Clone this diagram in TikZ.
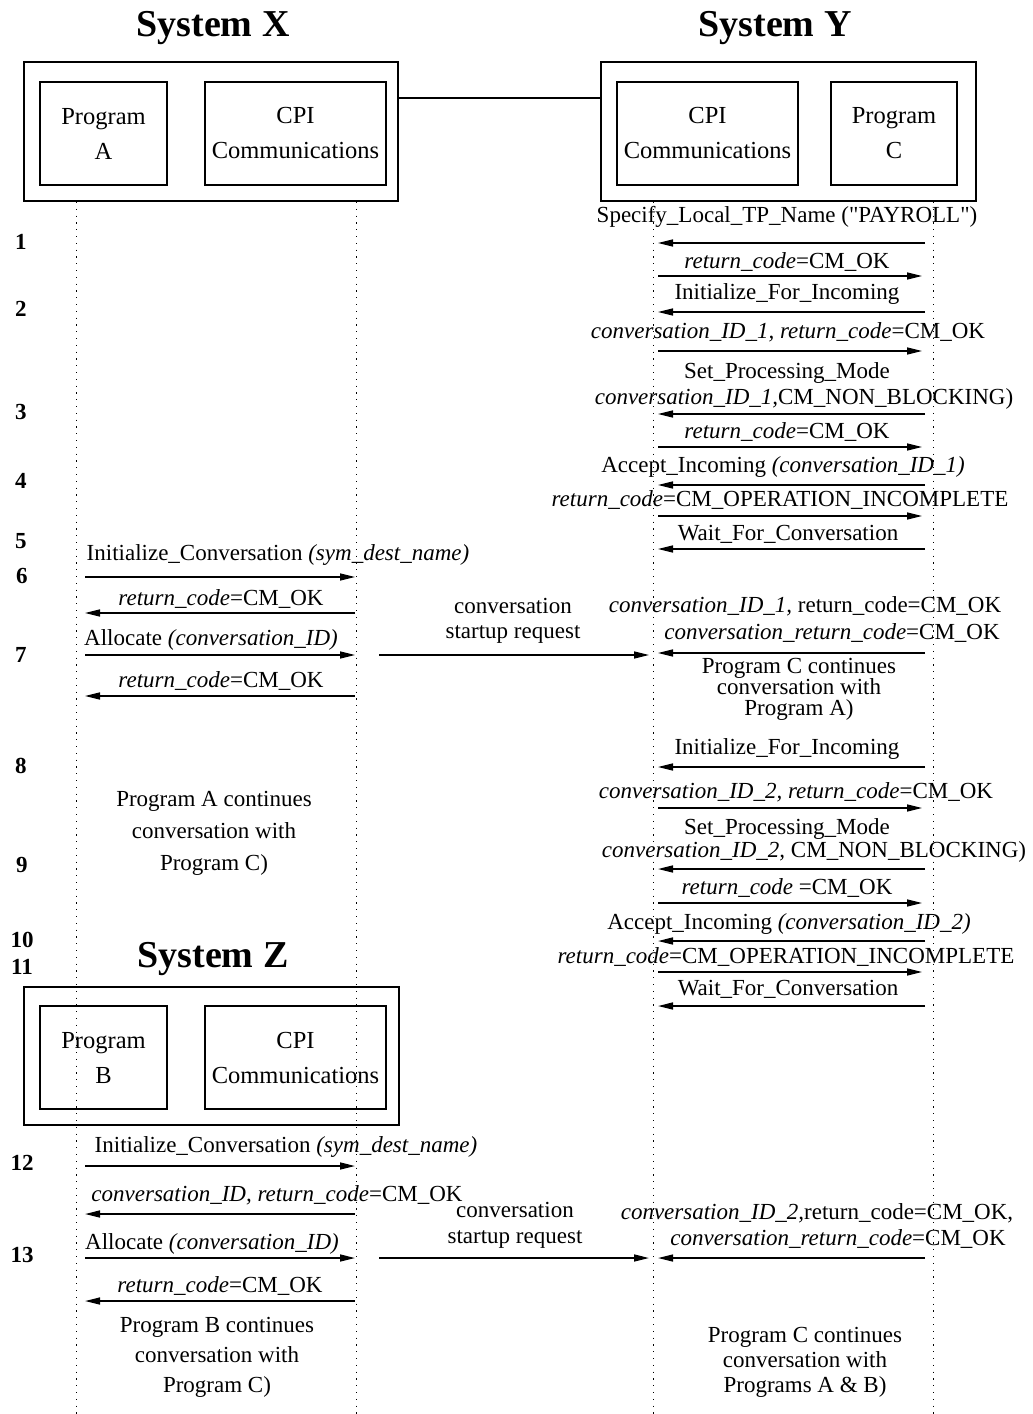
\documentclass[tikz,border=0pt]{standalone}
\usepackage{fontspec}
\setmainfont{Liberation Serif}
\usetikzlibrary{arrows.meta}

\tikzset{
  title/.style={anchor=base, inner sep=0pt, font=\fontsize{38}{38}\selectfont\bfseries},
  frame/.style={draw, line width=1.2pt, inner sep=0pt},
  unit/.style={draw, line width=1.2pt, inner sep=0pt, align=center, minimum height=103pt, font=\fontsize{24.5}{35}\selectfont},
  stepno/.style={anchor=base, inner sep=0pt, font=\fontsize{23}{23}\selectfont\bfseries},
  lbl/.style={anchor=base, inner sep=0pt},
  note/.style={align=center, inner sep=0pt},
  life/.style={line width=0.9pt, dash pattern=on 1.2pt off 5.6pt},
  msg/.style={line width=1.4pt, -{Triangle[length=15pt,width=7pt]}},
  xr/.style={msg, shorten <=9pt, shorten >=1pt},
  xl/.style={msg, shorten <=1pt, shorten >=9pt},
  yr/.style={msg, shorten <=5pt, shorten >=11pt},
  yl/.style={msg, shorten <=8pt, shorten >=5pt},
  far/.style={msg, shorten <=23pt, shorten >=4pt}
}

\begin{document}
\begin{tikzpicture}[x=1pt, y=-1pt, font=\fontsize{23}{26}\selectfont]
\useasboundingbox (0,0) rectangle (1033,1414);

\node[title] (tX) at (213,36) {System X};
\node[title] (tY) at (775,36) {System Y};
\node[title] (tZ) at (213,967) {System Z};

\node[frame, minimum width=374pt, minimum height=139pt] (sysX) at (211,131.5) {};
\node[unit, minimum width=127pt] (progA) at (103.5,133.5) {Program\\A};
\node[unit, minimum width=181pt] (cpiX) at (295.5,133.5) {CPI\\Communications};

\node[frame, minimum width=375pt, minimum height=139pt] (sysY) at (788.5,131.5) {};
\node[unit, minimum width=181pt] (cpiY) at (707.5,133.5) {CPI\\Communications};
\node[unit, minimum width=126pt] (progC) at (894,133.5) {Program\\C};

\draw[line width=1.2pt] ([yshift=33.5pt]sysX.east) -- ([yshift=33.5pt]sysY.west);

\node[frame, minimum width=375pt, minimum height=138pt] (sysZ) at (211.5,1056) {};
\node[unit, minimum width=127pt] (progB) at (103.5,1057.5) {Program\\B};
\node[unit, minimum width=181pt] (cpiZ) at (295.5,1057.5) {CPI\\Communications};

% life lines
\coordinate (pA) at (76,202);
\coordinate (cX) at (356,202);
\coordinate (cY) at (653,202);
\coordinate (pC) at (933,202);
\draw[life] (pA) -- (pA |- 0,1414);
\draw[life] (cX) -- (cX |- 0,1414);
\draw[life] (cY) -- (cY |- 0,1414);
\draw[life] (pC) -- (pC |- 0,1414);

% step numbers
\node[stepno] (s1) at (21,249) {1};
\node[stepno] (s2) at (21,316) {2};
\node[stepno] (s3) at (21,419) {3};
\node[stepno] (s4) at (21,488) {4};
\node[stepno] (s5) at (21,548) {5};
\node[stepno] (s6) at (22,583) {6};
\node[stepno] (s7) at (21,662) {7};
\node[stepno] (s8) at (21,773) {8};
\node[stepno] (s9) at (22,872) {9};
\node[stepno] (s10) at (22,947) {10};
\node[stepno] (s11) at (22,974) {11};
\node[stepno] (s12) at (22,1170) {12};
\node[stepno] (s13) at (22,1262) {13};

% System Y, first conversation
\node[lbl] (specTP) at (787,222) {Specify\_Local\_TP\_Name (\textquotedbl PAYROLL\textquotedbl)};
\draw[yl] (pC |- 0,243) -- (cY |- 0,243);
\node[lbl] (rcA) at (787,268) {\textit{return\_code}=CM\_OK};
\draw[yr] (cY |- 0,276) -- (pC |- 0,276);
\node[lbl] (initInA) at (787,299) {Initialize\_For\_Incoming};
\draw[yl] (pC |- 0,312) -- (cY |- 0,312);
\node[lbl] (idA) at (788,338) {\textit{conversation\_ID\_1, return\_code}=CM\_OK};
\draw[yr] (cY |- 0,351) -- (pC |- 0,351);
\node[lbl] (modeA) at (787,378) {Set\_Processing\_Mode};
\node[lbl] (nbA) at (804,404) {\textit{conversation\_ID\_1,}CM\_NON\_BLOCKING)};
\draw[yl] (pC |- 0,414) -- (cY |- 0,414);
\node[lbl] (rcB) at (787,438) {\textit{return\_code}=CM\_OK};
\draw[yr] (cY |- 0,447) -- (pC |- 0,447);
\node[lbl] (accA) at (783,472) {Accept\_Incoming \textit{(conversation\_ID\_1)}};
\draw[yl] (pC |- 0,485) -- (cY |- 0,485);
\node[lbl] (incA) at (780,506) {\textit{return\_code}=CM\_OPERATION\_INCOMPLETE};
\draw[yr] (cY |- 0,516) -- (pC |- 0,516);
\node[lbl] (waitA) at (788,540) {Wait\_For\_Conversation};
\draw[yl] (pC |- 0,549) -- (cY |- 0,549);

% System X allocates
\node[lbl] (initCA) at (278,560) {Initialize\_Conversation \textit{(sym\_dest\_name)}};
\draw[xr] (pA |- 0,577) -- (cX |- 0,577);
\node[lbl] (rcC) at (221,605) {\textit{return\_code}=CM\_OK};
\draw[xl] (cX |- 0,613) -- (pA |- 0,613);
\node[note, font=\fontsize{23}{25}\selectfont] (startA) at (513,621) {conversation\\startup request};
\node[lbl] (allocA) at (211,645) {Allocate \textit{(conversation\_ID)}};
\draw[xr] (pA |- 0,655) -- (cX |- 0,655);
\draw[far] (cX |- 0,655) -- (cY |- 0,655);
\node[lbl] (rcD) at (221,687) {\textit{return\_code}=CM\_OK};
\draw[xl] (cX |- 0,696) -- (pA |- 0,696);
\node[lbl] (idB) at (805,612) {\textit{conversation\_ID\_1,} return\_code=CM\_OK};
\node[lbl] (crcA) at (832,639) {\textit{conversation\_return\_code}=CM\_OK};
\draw[yl] (pC |- 0,653) -- (cY |- 0,653);
\node[note, font=\fontsize{23}{21}\selectfont] (goC1) at (799,689) {Program C continues\\conversation with\\Program A)};
\node[note, font=\fontsize{23}{32}\selectfont] (goA) at (214,833) {Program A continues\\conversation with\\Program C)};

% System Y, second conversation
\node[lbl] (initInB) at (787,754) {Initialize\_For\_Incoming};
\draw[yl] (pC |- 0,767) -- (cY |- 0,767);
\node[lbl] (idC) at (796,798) {\textit{conversation\_ID\_2, return\_code}=CM\_OK};
\draw[yr] (cY |- 0,808) -- (pC |- 0,808);
\node[lbl] (modeB) at (787,834) {Set\_Processing\_Mode};
\node[lbl] (nbB) at (814,857) {\textit{conversation\_ID\_2,} CM\_NON\_BLOCKING)};
\draw[yl] (pC |- 0,869) -- (cY |- 0,869);
\node[lbl] (rcE) at (787,894) {\textit{return\_code} =CM\_OK};
\draw[yr] (cY |- 0,903) -- (pC |- 0,903);
\node[lbl] (accB) at (789,929) {Accept\_Incoming\textit{ (conversation\_ID\_2)}};
\draw[yl] (pC |- 0,941) -- (cY |- 0,941);
\node[lbl] (incB) at (786,963) {\textit{return\_code}=CM\_OPERATION\_INCOMPLETE};
\draw[yr] (cY |- 0,972) -- (pC |- 0,972);
\node[lbl] (waitB) at (788,995) {Wait\_For\_Conversation};
\draw[yl] (pC |- 0,1006) -- (cY |- 0,1006);

% System Z allocates
\node[lbl] (initCB) at (286,1152) {Initialize\_Conversation \textit{(sym\_dest\_name)}};
\draw[xr] (pA |- 0,1166) -- (cX |- 0,1166);
\node[lbl] (idD) at (277,1201) {\textit{conversation\_ID, return\_code}=CM\_OK};
\draw[xl] (cX |- 0,1214) -- (pA |- 0,1214);
\node[note, font=\fontsize{23}{26}\selectfont] (startB) at (515,1225) {conversation\\startup request};
\node[lbl] (idE) at (817,1219) {\textit{conversation\_ID\_2,}return\_code=CM\_OK,};
\node[lbl] (crcB) at (838,1245) {\textit{conversation\_return\_code}=CM\_OK};
\node[lbl] (allocB) at (212,1249) {Allocate \textit{(conversation\_ID)}};
\draw[xr] (pA |- 0,1258) -- (cX |- 0,1258);
\draw[far] (cX |- 0,1258) -- (cY |- 0,1258);
\draw[yl] (pC |- 0,1258) -- (cY |- 0,1258);
\node[lbl] (rcF) at (220,1292) {\textit{return\_code}=CM\_OK};
\draw[xl] (cX |- 0,1301) -- (pA |- 0,1301);
\node[note, font=\fontsize{23}{30}\selectfont] (goB) at (217,1357) {Program B continues\\conversation with\\Program C)};
\node[note, font=\fontsize{23}{25}\selectfont] (goC2) at (805,1362) {Program C continues\\conversation with\\Programs A \& B)};
\end{tikzpicture}
\end{document}
